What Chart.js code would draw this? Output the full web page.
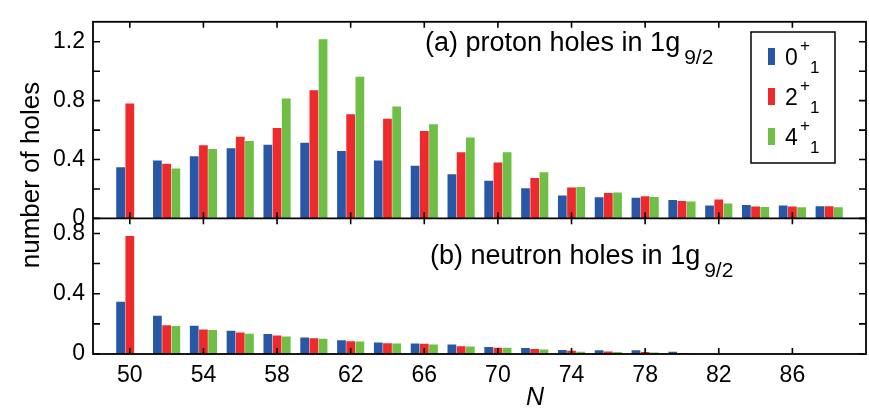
<!DOCTYPE html>
<html>
<head>
<meta charset="utf-8">
<script src="https://cdn.jsdelivr.net/npm/chart.js@4.4.1/dist/chart.umd.min.js"></script>
<style>
  html, body { margin: 0; padding: 0; background: #fff; }
  #wrap { width: 869px; height: 412px; }
</style>
</head>
<body>
<div id="wrap"><canvas id="c" width="869" height="412"></canvas></div>
<script>
/* Number of 1g9/2 proton / neutron holes in the 0+1, 2+1, 4+1 states vs N.
 * Two stacked panels sharing one linear N axis; frame, inward ticks,
 * panel captions and the legend are drawn by a small plugin. */

var N = [50, 52, 54, 56, 58, 60, 62, 64, 66, 68, 70, 72, 74, 76, 78, 80, 82, 84, 86, 88];

// (a) proton holes
var protonG0 = [0.347, 0.393, 0.423, 0.477, 0.501, 0.514, 0.458, 0.393, 0.358, 0.300,
                0.255, 0.205, 0.155, 0.144, 0.140, 0.125, 0.088, 0.090, 0.088, 0.083];
var protonG2 = [0.780, 0.371, 0.497, 0.555, 0.614, 0.871, 0.707, 0.677, 0.594, 0.449,
                0.380, 0.274, 0.209, 0.172, 0.151, 0.118, 0.129, 0.081, 0.081, 0.083];
var protonG4 = [null, 0.339, 0.471, 0.525, 0.815, 1.218, 0.962, 0.761, 0.640, 0.549,
                0.449, 0.313, 0.213, 0.176, 0.146, 0.114, 0.101, 0.077, 0.075, 0.075];

// (b) neutron holes
var neutronG0 = [0.347, 0.254, 0.188, 0.154, 0.133, 0.110, 0.091, 0.076, 0.070, 0.063,
                 0.046, 0.040, 0.027, 0.025, 0.025, 0.015, 0, 0, 0, 0];
var neutronG2 = [0.783, 0.190, 0.163, 0.142, 0.123, 0.104, 0.085, 0.072, 0.068, 0.051,
                 0.042, 0.034, 0.021, 0.017, 0.013, 0.005, 0, 0, 0, 0];
var neutronG4 = [null, 0.186, 0.159, 0.135, 0.116, 0.102, 0.083, 0.070, 0.063, 0.049,
                 0.042, 0.030, 0.015, 0.013, 0.010, 0.004, 0, 0, 0, 0];

var xTicks = [50, 54, 58, 62, 66, 70, 74, 78, 82, 86];
var yTicksA = [0, 0.2, 0.4, 0.6, 0.8, 1.0, 1.2];
var yTicksB = [0, 0.2, 0.4, 0.6, 0.8];
var stateLabels = ["0", "2", "4"];

var COL = ["#2857a6", "#ee2a2d", "#6fbe45"];
var FONT = "'Liberation Sans', Arial, Helvetica, sans-serif";

function series(data, i, axis) {
  return {
    label: stateLabels[i] + "+1",
    data: N.map(function (n, k) { return { x: n, y: data[k] }; }),
    backgroundColor: COL[i],
    borderWidth: 0,
    yAxisID: axis,
    stack: "s" + i,
    barPercentage: 0.95,
    categoryPercentage: 0.75
  };
}

function labelEvery04(v) {
  var r = v / 0.4;
  if (Math.abs(r - Math.round(r)) > 1e-6) return "";
  return v === 0 ? "0" : v.toFixed(1);
}

function fixedTicks(list) {
  return function (s) { s.ticks = list.map(function (v) { return { value: v }; }); };
}

/* text with a subscript, e.g. 1g_9/2 */
function subText(ctx, x, y, main, sub, f1, f2, dy) {
  ctx.font = f1 + "px " + FONT;
  ctx.textAlign = "left";
  ctx.textBaseline = "alphabetic";
  ctx.fillText(main, x, y);
  var w = ctx.measureText(main).width;
  ctx.font = f2 + "px " + FONT;
  ctx.fillText(sub, x + w + 4, y + dy);
}

var decor = {
  id: "decor",
  afterDraw: function (chart) {
    var ctx = chart.ctx, a = chart.chartArea;
    var sx = chart.scales.x, ya = chart.scales.ya, yb = chart.scales.yb;
    ctx.save();
    ctx.strokeStyle = "#000";
    ctx.fillStyle = "#000";
    ctx.lineWidth = 1.8;

    // frame + panel separator
    ctx.strokeRect(a.left, a.top, a.right - a.left, a.bottom - a.top);
    ctx.beginPath();
    ctx.moveTo(a.left, ya.bottom); ctx.lineTo(a.right, ya.bottom);
    ctx.stroke();

    // inward ticks
    ctx.lineWidth = 1.6;
    ctx.beginPath();
    [ya, yb].forEach(function (p) {
      xTicks.forEach(function (v) {
        var px = sx.getPixelForValue(v);
        ctx.moveTo(px, p.top); ctx.lineTo(px, p.top + 6);
        ctx.moveTo(px, p.bottom); ctx.lineTo(px, p.bottom - 6);
      });
    });
    [[ya, yTicksA], [yb, yTicksB]].forEach(function (pair) {
      pair[1].forEach(function (v) {
        var py = pair[0].getPixelForValue(v);
        ctx.moveTo(a.left, py); ctx.lineTo(a.left + 7, py);
        ctx.moveTo(a.right, py); ctx.lineTo(a.right - 7, py);
      });
    });
    ctx.stroke();

    // axis titles
    ctx.font = "26px " + FONT;
    ctx.textAlign = "center";
    ctx.textBaseline = "alphabetic";
    ctx.save();
    ctx.translate(39, 175);
    ctx.rotate(-Math.PI / 2);
    ctx.fillText("number of holes", 0, 0);
    ctx.restore();
    ctx.font = "italic 25px " + FONT;
    ctx.textBaseline = "middle";
    ctx.fillText("N", 535, 398);

    // panel captions
    subText(ctx, 425, 51, "(a) proton holes in 1g", "9/2", 27, 21, 13);
    subText(ctx, 430, 264, "(b) neutron holes in 1g", "9/2", 27, 21, 13);

    // legend
    ctx.lineWidth = 1.5;
    ctx.strokeRect(751, 32, 84, 131);
    ctx.textAlign = "left";
    ctx.textBaseline = "alphabetic";
    stateLabels.forEach(function (s, i) {
      var base = 65 + 40 * i;
      ctx.fillStyle = COL[i];
      ctx.fillRect(768, base - 17, 7, 17);
      ctx.fillStyle = "#000";
      ctx.font = "23px " + FONT;
      ctx.fillText(s, 785, base);
      ctx.font = "17px " + FONT;
      ctx.fillText("+", 800, base - 14);
      ctx.fillText("1", 810, base + 8);
    });
    ctx.restore();
  }
};

Chart.defaults.font.family = FONT;
Chart.defaults.color = "#000";

new Chart(document.getElementById("c"), {
  type: "bar",
  data: {
    datasets: [
      series(protonG0, 0, "ya"), series(protonG2, 1, "ya"), series(protonG4, 2, "ya"),
      series(neutronG0, 0, "yb"), series(neutronG2, 1, "yb"), series(neutronG4, 2, "yb")
    ]
  },
  options: {
    responsive: false,
    devicePixelRatio: 1,
    animation: false,
    layout: { padding: { top: 5, right: 3, left: 0, bottom: 0 } },
    plugins: { legend: { display: false }, tooltip: { enabled: false } },
    scales: {
      x: {
        type: "linear", min: 48, max: 90, offset: false,
        grid: { display: false, drawTicks: false }, border: { display: false },
        afterBuildTicks: fixedTicks(xTicks),
        afterFit: function (s) { s.height = 58; },
        ticks: { font: { size: 23 }, padding: 8, maxRotation: 0, autoSkip: false,
                 callback: function (v) { return String(v); } }
      },
      ya: {
        type: "linear", position: "left", stack: "panels", stackWeight: 206.5, weight: 1,
        min: 0, max: 1.336, stacked: false,
        grid: { display: false, drawTicks: false }, border: { display: false },
        afterBuildTicks: fixedTicks(yTicksA),
        afterFit: function (s) { s.width = 93; },
        ticks: { font: { size: 23 }, padding: 8, callback: labelEvery04 }
      },
      yb: {
        type: "linear", position: "left", stack: "panels", stackWeight: 142.5, weight: 0,
        min: 0, max: 0.9, stacked: false,
        grid: { display: false, drawTicks: false }, border: { display: false },
        afterBuildTicks: fixedTicks(yTicksB),
        afterFit: function (s) { s.width = 93; },
        ticks: { font: { size: 23 }, padding: 8, callback: labelEvery04 }
      }
    }
  },
  plugins: [decor]
});
</script>
</body>
</html>
